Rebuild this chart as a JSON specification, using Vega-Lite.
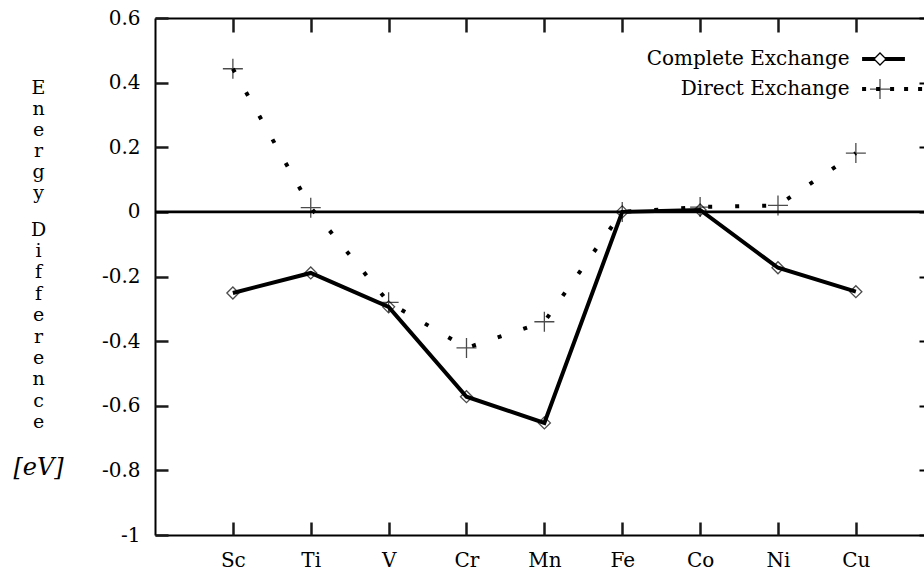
{
  "$schema": "https://vega.github.io/schema/vega-lite/v6.json",
  "width": 769,
  "height": 517,
  "autosize": {"type": "none"},
  "padding": {"left": 155, "top": 18, "right": 0, "bottom": 43},
  "background": "white",
  "config": {
    "view": {"stroke": null},
    "font": "DejaVu Serif",
    "axis": {
      "grid": false,
      "domainColor": "black",
      "domainWidth": 2,
      "tickColor": "black",
      "tickWidth": 2,
      "labelFont": "DejaVu Serif",
      "labelFontSize": 20,
      "labelColor": "black",
      "titleFont": "DejaVu Serif",
      "titleFontSize": 19,
      "titleFontWeight": "normal",
      "titleColor": "black"
    },
    "text": {"font": "DejaVu Serif", "fontSize": 20, "color": "black"}
  },
  "datasets": {
    "energy": [
      {"element": "Sc", "Z": 21, "series": "Complete Exchange", "value": -0.251},
      {"element": "Ti", "Z": 22, "series": "Complete Exchange", "value": -0.189},
      {"element": "V", "Z": 23, "series": "Complete Exchange", "value": -0.294},
      {"element": "Cr", "Z": 24, "series": "Complete Exchange", "value": -0.572},
      {"element": "Mn", "Z": 25, "series": "Complete Exchange", "value": -0.653},
      {"element": "Fe", "Z": 26, "series": "Complete Exchange", "value": 0.0},
      {"element": "Co", "Z": 27, "series": "Complete Exchange", "value": 0.006},
      {"element": "Ni", "Z": 28, "series": "Complete Exchange", "value": -0.173},
      {"element": "Cu", "Z": 29, "series": "Complete Exchange", "value": -0.247},
      {"element": "Sc", "Z": 21, "series": "Direct Exchange", "value": 0.443},
      {"element": "Ti", "Z": 22, "series": "Direct Exchange", "value": 0.013},
      {"element": "V", "Z": 23, "series": "Direct Exchange", "value": -0.28},
      {"element": "Cr", "Z": 24, "series": "Direct Exchange", "value": -0.421},
      {"element": "Mn", "Z": 25, "series": "Direct Exchange", "value": -0.34},
      {"element": "Fe", "Z": 26, "series": "Direct Exchange", "value": 0.0},
      {"element": "Co", "Z": 27, "series": "Direct Exchange", "value": 0.015},
      {"element": "Ni", "Z": 28, "series": "Direct Exchange", "value": 0.02},
      {"element": "Cu", "Z": 29, "series": "Direct Exchange", "value": 0.182}
    ],
    "legend": [
      {"series": "Complete Exchange", "row": 1},
      {"series": "Direct Exchange", "row": 2}
    ]
  },
  "data": {"name": "energy"},
  "resolve": {"axis": {"x": "independent", "y": "independent"}},
  "layer": [
    {
      "data": {"values": [{"level": 0}]},
      "mark": {"type": "rule", "color": "black", "strokeWidth": 2.8},
      "encoding": {
        "y": {"field": "level", "type": "quantitative", "scale": {"domain": [-1, 0.6], "nice": false, "zero": false}, "axis": null}
      }
    },
    {
      "transform": [{"filter": "datum.series === 'Direct Exchange'"}],
      "mark": {"type": "line", "color": "black", "strokeWidth": 4, "strokeCap": "butt", "strokeDash": [4, 23]},
      "encoding": {
        "x": {"field": "Z", "type": "quantitative", "scale": {"domain": [20, 29.875], "nice": false, "zero": false},
          "axis": {"orient": "top", "ticks": false, "tickSize": 0, "labels": false, "title": null}},
        "y": {"field": "value", "type": "quantitative", "scale": {"domain": [-1, 0.6], "nice": false, "zero": false}, "axis": null}
      }
    },
    {
      "transform": [{"filter": "datum.series === 'Complete Exchange'"}],
      "mark": {"type": "line", "color": "black", "strokeWidth": 4},
      "encoding": {
        "x": {"field": "Z", "type": "quantitative", "scale": {"domain": [20, 29.875], "nice": false, "zero": false},
          "axis": {"orient": "bottom", "values": [21, 22, 23, 24, 25, 26, 27, 28, 29], "ticks": false, "tickSize": 0, "labelPadding": 25, "labelBaseline": "middle",
            "labelExpr": "['Sc','Ti','V','Cr','Mn','Fe','Co','Ni','Cu'][datum.value - 21]", "title": null}},
        "y": {"field": "value", "type": "quantitative", "scale": {"domain": [-1, 0.6], "nice": false, "zero": false},
          "axis": {"orient": "left", "values": [-1, -0.8, -0.6, -0.4, -0.2, 0, 0.2, 0.4, 0.6], "ticks": false, "tickSize": 0, "labelPadding": 15,
            "labelExpr": "replace(format(datum.value, '~g'), '−', '-')",
            "title": ["E", "n", "e", "r", "g", "y"],
            "titleAngle": 0, "titleAlign": "center", "titleBaseline": "alphabetic", "titleX": -117, "titleY": 75, "titleLineHeight": 21}}
      }
    },
    {
      "transform": [{"filter": "datum.series === 'Complete Exchange'"}],
      "mark": {"type": "point", "shape": "diamond", "size": 144, "filled": false, "color": "black", "strokeWidth": 1.3},
      "encoding": {
        "x": {"field": "Z", "type": "quantitative", "scale": {"domain": [20, 29.875], "nice": false, "zero": false},
          "axis": {"orient": "bottom", "offset": -517, "values": [21, 22, 23, 24, 25, 26, 27, 28, 29], "domain": false, "labels": false, "tickSize": 14, "tickWidth": 2.5, "tickColor": "#1a1a1a", "title": null}},
        "y": {"field": "value", "type": "quantitative", "scale": {"domain": [-1, 0.6], "nice": false, "zero": false},
          "axis": {"orient": "right", "offset": -769, "values": [-1, -0.8, -0.6, -0.4, -0.2, 0, 0.2, 0.4, 0.6], "domain": false, "labels": false, "tickSize": 13, "tickWidth": 2.5, "tickColor": "#1a1a1a",
            "title": ["D", "i", "f", "f", "e", "r", "e", "n", "c", "e"],
            "titleAngle": 0, "titleAlign": "center", "titleBaseline": "alphabetic", "titleX": -117, "titleY": 217, "titleLineHeight": 21.4}}
      }
    },
    {
      "transform": [{"filter": "datum.series === 'Direct Exchange'"}],
      "mark": {"type": "point", "shape": "M-1,0H1M0,-1V1", "size": 400, "filled": false, "color": "black", "strokeWidth": 1.3},
      "encoding": {
        "x": {"field": "Z", "type": "quantitative", "scale": {"domain": [20, 29.875], "nice": false, "zero": false},
          "axis": {"orient": "top", "offset": -517, "values": [21, 22, 23, 24, 25, 26, 27, 28, 29], "domain": false, "labels": false, "tickSize": 13, "tickWidth": 2.5, "tickColor": "#1a1a1a", "title": null}},
        "y": {"field": "value", "type": "quantitative", "scale": {"domain": [-1, 0.6], "nice": false, "zero": false},
          "axis": {"orient": "left", "offset": -769, "values": [-1, -0.8, -0.6, -0.4, -0.2, 0, 0.2, 0.4, 0.6], "domain": false, "labels": false, "tickSize": 5, "tickWidth": 2, "tickColor": "black",
            "title": "[eV]", "titleFontSize": 24, "titleFontStyle": "italic",
            "titleAngle": 0, "titleAlign": "center", "titleBaseline": "alphabetic", "titleX": -886, "titleY": 456}}
      }
    },
    {
      "data": {"name": "legend"},
      "transform": [{"filter": "datum.row === 1"}],
      "mark": {"type": "rule", "color": "black", "strokeWidth": 4},
      "encoding": {
        "x": {"datum": 29.08, "type": "quantitative", "axis": null},
        "x2": {"datum": 29.63},
        "y": {"datum": 0.473, "type": "quantitative", "axis": null}
      }
    },
    {
      "data": {"name": "legend"},
      "transform": [{"filter": "datum.row === 1"}],
      "mark": {"type": "point", "shape": "diamond", "size": 144, "filled": true, "fill": "white", "stroke": "black", "strokeWidth": 1.3, "opacity": 1},
      "encoding": {
        "x": {"datum": 29.31, "type": "quantitative", "axis": null},
        "y": {"datum": 0.473, "type": "quantitative", "axis": null}
      }
    },
    {
      "data": {"name": "legend"},
      "transform": [{"filter": "datum.row === 1"}],
      "mark": {"type": "text", "align": "right", "baseline": "middle"},
      "encoding": {
        "x": {"datum": 28.92, "type": "quantitative", "axis": null},
        "y": {"datum": 0.473, "type": "quantitative", "axis": null},
        "text": {"field": "series"}
      }
    },
    {
      "data": {"name": "legend"},
      "transform": [{"filter": "datum.row === 2"}],
      "mark": {"type": "rule", "color": "black", "strokeWidth": 4, "strokeCap": "butt", "strokeDash": [4, 10]},
      "encoding": {
        "x": {"datum": 29.08, "type": "quantitative", "axis": null},
        "x2": {"datum": 29.875},
        "y": {"datum": 0.38, "type": "quantitative", "axis": null}
      }
    },
    {
      "data": {"name": "legend"},
      "transform": [{"filter": "datum.row === 2"}],
      "mark": {"type": "point", "shape": "M-1,0H1M0,-1V1", "size": 400, "filled": false, "color": "black", "strokeWidth": 1.3},
      "encoding": {
        "x": {"datum": 29.31, "type": "quantitative", "axis": null},
        "y": {"datum": 0.38, "type": "quantitative", "axis": null}
      }
    },
    {
      "data": {"name": "legend"},
      "transform": [{"filter": "datum.row === 2"}],
      "mark": {"type": "text", "align": "right", "baseline": "middle"},
      "encoding": {
        "x": {"datum": 28.92, "type": "quantitative", "axis": null},
        "y": {"datum": 0.38, "type": "quantitative", "axis": null},
        "text": {"field": "series"}
      }
    }
  ]
}
